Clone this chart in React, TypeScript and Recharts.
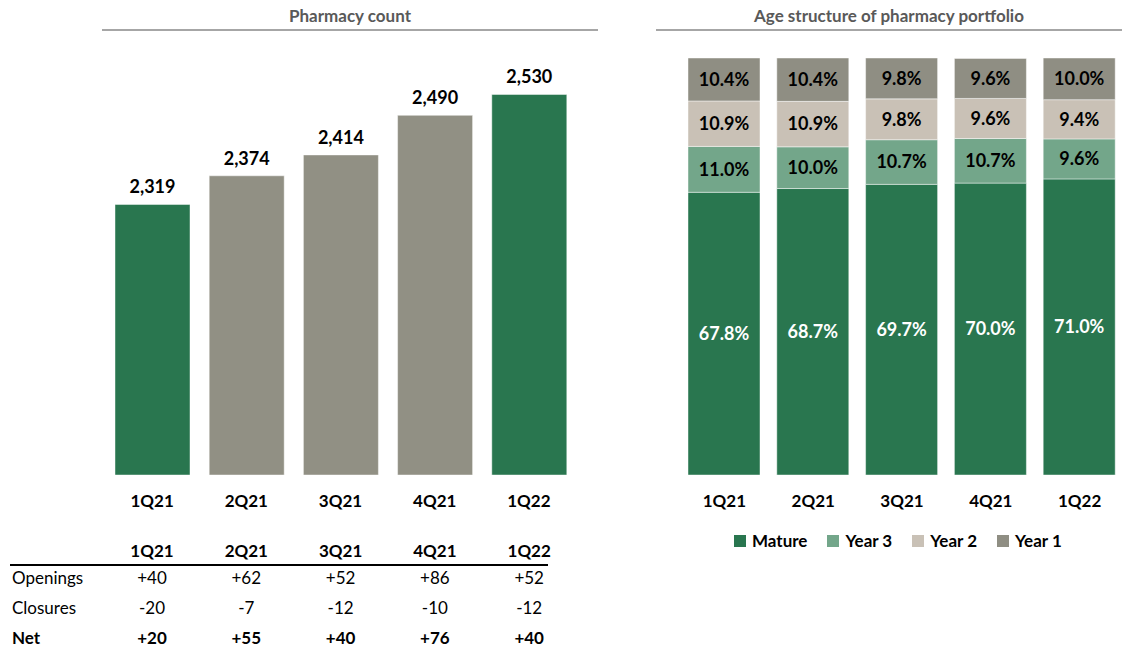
import { BarChart, Bar, XAxis, YAxis, Cell, LabelList, Legend } from 'recharts';

const quarters = ['1Q21', '2Q21', '3Q21', '4Q21', '1Q22'];
const pharmacyCount = [2319, 2374, 2414, 2490, 2530];
const highlighted = [true, false, false, false, true];

const openings = [40, 62, 52, 86, 52];
const closures = [-20, -7, -12, -10, -12];
const net = [20, 55, 40, 76, 40];

const mature = [67.8, 68.7, 69.7, 70.0, 71.0];
const year3 = [11.0, 10.0, 10.7, 10.7, 9.6];
const year2 = [10.9, 10.9, 9.8, 9.6, 9.4];
const year1 = [10.4, 10.4, 9.8, 9.6, 10.0];
const legendOrder = ['Mature', 'Year 3', 'Year 2', 'Year 1'];

const GREEN = '#29764f';
const GRAY = '#919084';
const Y3 = '#73a68a';
const Y2 = '#c9c1b6';
const Y1 = '#8f8e83';
const EDGE = 'rgba(255,255,255,0.45)';
const FONT = 'Lato, sans-serif';

const countData = quarters.map((q, i) => ({ q, count: pharmacyCount[i] }));
const ageData = quarters.map((q, i) => ({
  q,
  mature: mature[i],
  year3: year3[i],
  year2: year2[i],
  year1: year1[i],
}));

const signed = (v: number) => (v > 0 ? `+${v}` : `${v}`);
const pct = (v: any) => `${Number(v).toFixed(1)}%`;

const tickStyle = { fontSize: 17, fontWeight: 700, fill: '#000', fontFamily: FONT };
const stackLabel = { fontSize: 18, fontWeight: 700, fill: '#000', fontFamily: FONT };

function Title({ text, left, width }: { text: string; left: number; width: number }) {
  return (
    <div style={{ position: 'absolute', left, top: 4, width }}>
      <div style={{ textAlign: 'center', fontWeight: 700, fontSize: 17, color: '#595959', lineHeight: '24px' }}>
        {text}
      </div>
      <div style={{ height: 2, background: '#a6a6a6', marginTop: 1 }} />
    </div>
  );
}

function ChangeTable() {
  const colX = (i: number) => 152 + i * 94.3;
  const rows = [
    { label: 'Openings', values: openings, bold: false, y: 571 },
    { label: 'Closures', values: closures, bold: false, y: 601 },
    { label: 'Net', values: net, bold: true, y: 631 },
  ];
  const cell = { position: 'absolute' as const, fontSize: 17, lineHeight: '14px', whiteSpace: 'nowrap' as const };
  return (
    <>
      {quarters.map((q, i) => (
        <div key={q} style={{ ...cell, left: colX(i) - 40, width: 80, top: 544, textAlign: 'center', fontWeight: 700 }}>
          {q}
        </div>
      ))}
      <div style={{ position: 'absolute', left: 10, top: 564, width: 538, height: 2, background: '#000' }} />
      {rows.map((r) => (
        <div key={r.label}>
          <div style={{ ...cell, left: 12, top: r.y, fontWeight: r.bold ? 700 : 400 }}>{r.label}</div>
          {r.values.map((v, i) => (
            <div key={i} style={{ ...cell, left: colX(i) - 40, width: 80, top: r.y, textAlign: 'center', fontWeight: r.bold ? 700 : 400 }}>
              {signed(v)}
            </div>
          ))}
        </div>
      ))}
    </>
  );
}

function LegendContent(props: any) {
  const items = [...(props.payload || [])].sort(
    (a: any, b: any) => legendOrder.indexOf(a.value) - legendOrder.indexOf(b.value),
  );
  return (
    <div style={{ display: 'flex', gap: 20, fontFamily: FONT, fontWeight: 700, fontSize: 17 }}>
      {items.map((it: any) => (
        <div key={it.value} style={{ display: 'flex', alignItems: 'center', gap: 6 }}>
          <span style={{ width: 12, height: 12, background: it.color, display: 'inline-block' }} />
          <span>{it.value}</span>
        </div>
      ))}
    </div>
  );
}

export default function App() {
  return (
    <div style={{ position: 'absolute', left: 0, top: 0, width: 1122, height: 649, overflow: 'hidden', background: '#fff', fontFamily: FONT, color: '#000' }}>
      <Title text="Pharmacy count" left={102} width={496} />
      <Title text="Age structure of pharmacy portfolio" left={656} width={466} />

      <div style={{ position: 'absolute', left: 0, top: 0 }}>
        <BarChart width={600} height={649} data={countData} margin={{ top: 58, left: 105, right: 24, bottom: 134 }}>
          <XAxis dataKey="q" axisLine={false} tickLine={false} tick={tickStyle} tickMargin={14} height={40} interval={0} />
          <YAxis hide domain={[1800, 2600]} allowDataOverflow />
          <Bar dataKey="count" barSize={75} stroke={EDGE} isAnimationActive={false}>
            {countData.map((d, i) => (
              <Cell key={d.q} fill={highlighted[i] ? GREEN : GRAY} />
            ))}
            <LabelList
              dataKey="count"
              position="top"
              offset={11}
              formatter={(v: any) => Number(v).toLocaleString('en-US')}
              style={{ fontSize: 18, fontWeight: 700, fill: '#000', fontFamily: FONT }}
            />
          </Bar>
        </BarChart>
      </div>

      <ChangeTable />

      <div style={{ position: 'absolute', left: 656, top: 0 }}>
        <BarChart width={470} height={649} data={ageData} margin={{ top: 58, left: 24, right: 2, bottom: 134 }}>
          <XAxis dataKey="q" axisLine={false} tickLine={false} tick={tickStyle} tickMargin={14} height={40} interval={0} />
          <YAxis hide domain={[0, 100]} allowDataOverflow />
          <Legend
            layout="horizontal"
            verticalAlign="middle"
            content={<LegendContent />}
            wrapperStyle={{ top: 530, left: 78, width: 'auto' }}
          />
          <Bar dataKey="mature" name="Mature" stackId="a" fill={GREEN} stroke={EDGE} barSize={72} isAnimationActive={false}>
            <LabelList dataKey="mature" position="center" formatter={pct} style={{ ...stackLabel, fill: '#fff' }} />
          </Bar>
          <Bar dataKey="year3" name="Year 3" stackId="a" fill={Y3} stroke={EDGE} barSize={72} isAnimationActive={false}>
            <LabelList dataKey="year3" position="center" formatter={pct} style={stackLabel} />
          </Bar>
          <Bar dataKey="year2" name="Year 2" stackId="a" fill={Y2} stroke={EDGE} barSize={72} isAnimationActive={false}>
            <LabelList dataKey="year2" position="center" formatter={pct} style={stackLabel} />
          </Bar>
          <Bar dataKey="year1" name="Year 1" stackId="a" fill={Y1} stroke={EDGE} barSize={72} isAnimationActive={false}>
            <LabelList dataKey="year1" position="center" formatter={pct} style={stackLabel} />
          </Bar>
        </BarChart>
      </div>
    </div>
  );
}
